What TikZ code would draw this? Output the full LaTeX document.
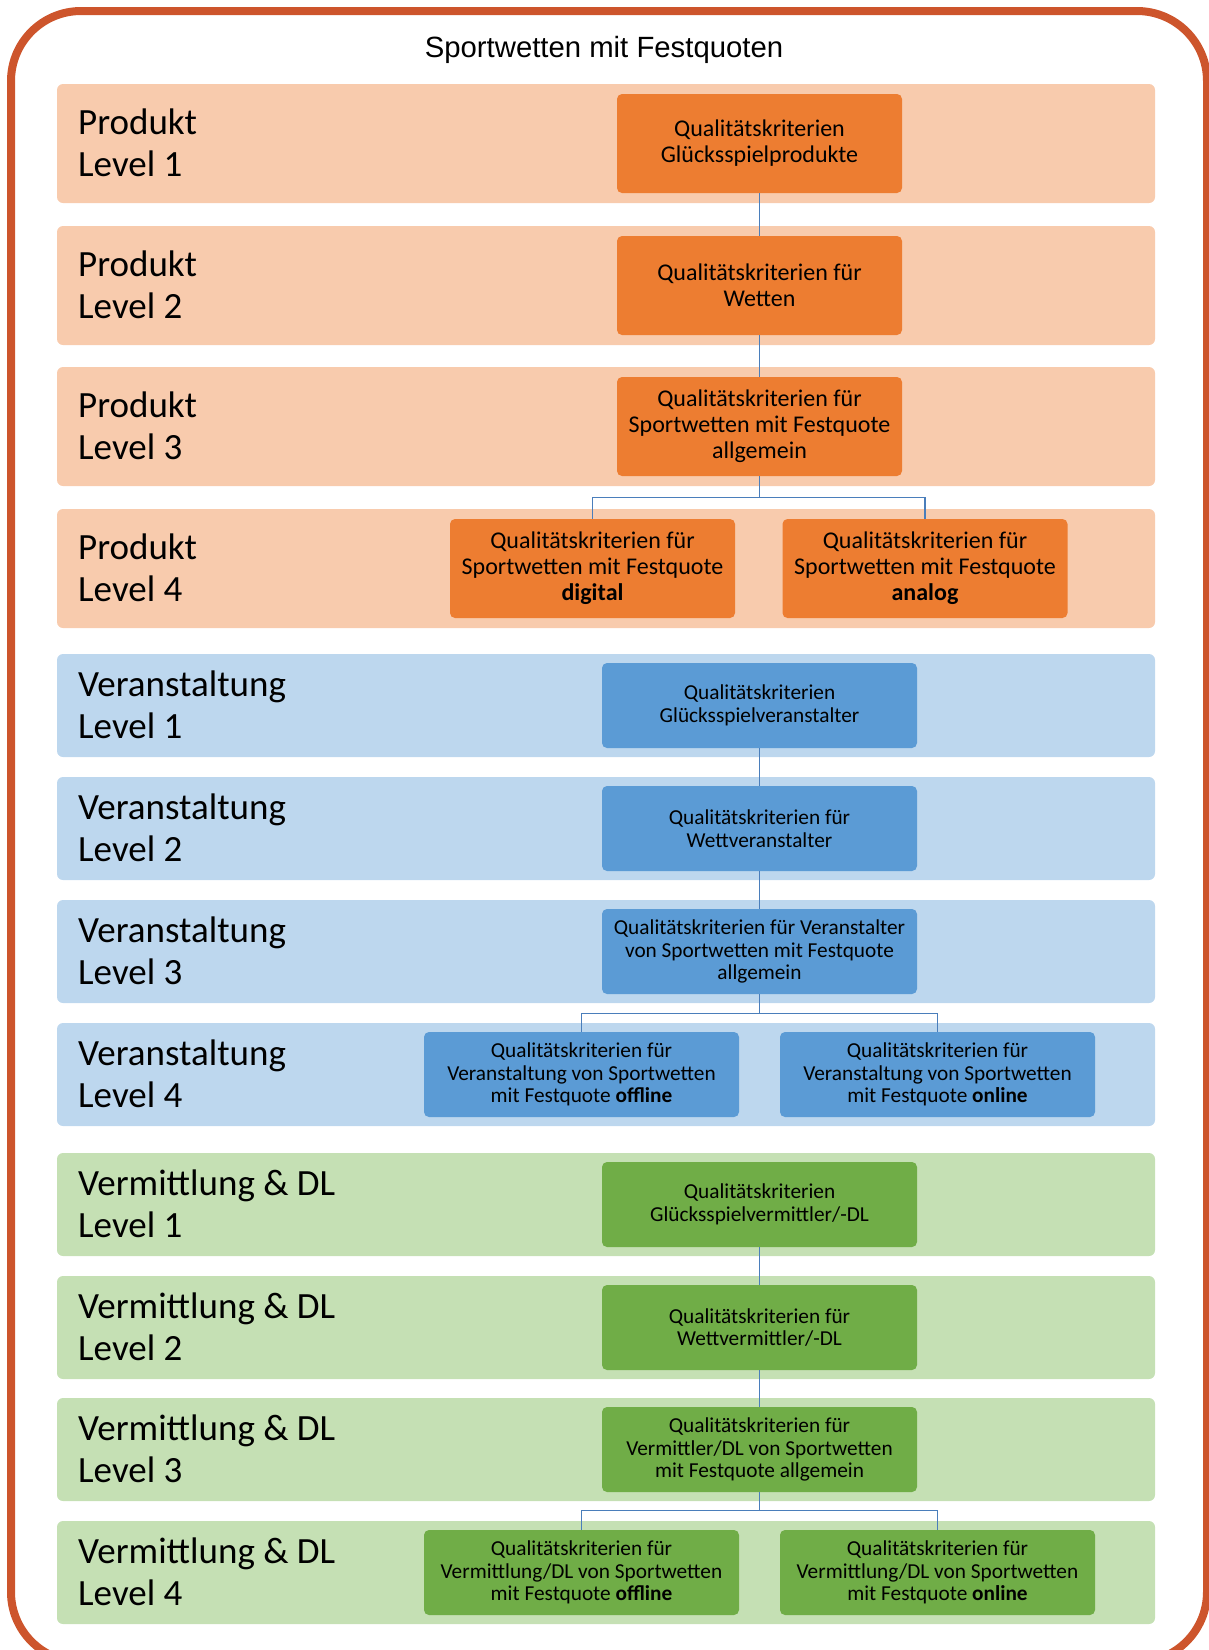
\documentclass[tikz,border=0pt]{standalone}
\usepackage{fontspec}
\setmainfont{Carlito}
\newfontfamily\headfont{Liberation Sans}
\usepackage{xcolor}
\definecolor{frame}{HTML}{CD552C}
\definecolor{prodband}{HTML}{F8CBAD}
\definecolor{prodbox}{HTML}{ED7D31}
\definecolor{verband}{HTML}{BDD7EE}
\definecolor{verbox}{HTML}{5B9BD5}
\definecolor{vmband}{HTML}{C5E0B4}
\definecolor{vmbox}{HTML}{70AD47}
\definecolor{linkblue}{HTML}{4A7EBB}
\usetikzlibrary{positioning,calc}
\tikzset{
  band/.style={rounded corners=6pt},
  lvl/.style={anchor=base west,align=left,inner sep=0pt,font=\fontsize{37}{42}\selectfont},
  kbox/.style={rounded corners=5pt,align=center,inner sep=2pt,text=black},
  kprod/.style={kbox,fill=prodbox,minimum width=285pt,minimum height=99pt,font=\fontsize{24}{26}\selectfont},
  kver/.style={kbox,fill=verbox,minimum width=315pt,minimum height=85pt,font=\fontsize{21.3}{22.5}\selectfont},
  kvm/.style={kver,fill=vmbox},
  link/.style={draw=linkblue,line width=1.2pt},
}

\begin{document}
\begin{tikzpicture}[x=1pt,y=-1pt]
  \useasboundingbox (0,0) rectangle (1209,1650);
  % outer frame, runs off the bottom edge
  \begin{scope}
    \clip (0,0) rectangle (1209,1650);
    \draw[frame,line width=8pt,rounded corners=70pt] (11,11) rectangle (1207,1662);
  \end{scope}
  \node[font=\headfont\fontsize{29.3}{34}\selectfont,anchor=base] (title) at (604,57) {Sportwetten mit Festquoten};
  % level bands (label sits on the baseline of its second line)
  \foreach \n/\y/\h/\c/\t in {lp1/84/119/prodband/{Produkt\\Level 1},
                             lp2/226/119/prodband/{Produkt\\Level 2},
                             lp3/367/119/prodband/{Produkt\\Level 3},
                             lp4/509/119/prodband/{Produkt\\Level 4},
                             lv1/654/103/verband/{Veranstaltung\\Level 1},
                             lv2/777/103/verband/{Veranstaltung\\Level 2},
                             lv3/900/103/verband/{Veranstaltung\\Level 3},
                             lv4/1023/103/verband/{Veranstaltung\\Level 4},
                             lm1/1153/103/vmband/{Vermittlung \& DL\\Level 1},
                             lm2/1276/103/vmband/{Vermittlung \& DL\\Level 2},
                             lm3/1398/103/vmband/{Vermittlung \& DL\\Level 3},
                             lm4/1521/103/vmband/{Vermittlung \& DL\\Level 4}}{
    \fill[band,\c] (57,\y) rectangle (1155,\y+\h);
    \node[lvl] (\n) at (78,\y+\h/2+32.5) {\t};
  }
  % product criteria
  \node[kprod] (prod1) at (759.5,143.5) {Qualitätskriterien\\Glücksspielprodukte};
  \node[kprod] (prod2) at (759.5,285.5) {Qualitätskriterien für\\Wetten};
  \node[kprod] (prod3) at (759.5,426.5) {Qualitätskriterien für\\Sportwetten mit Festquote\\allgemein};
  \node[kprod] (prod4d) at (592.5,568.5) {Qualitätskriterien für\\Sportwetten mit Festquote\\\textbf{digital}};
  \node[kprod] (prod4a) at (925,568.5) {Qualitätskriterien für\\Sportwetten mit Festquote\\\textbf{analog}};
  % operator criteria
  \node[kver] (ver1) at (759.5,705.5) {Qualitätskriterien\\Glücksspielveranstalter};
  \node[kver] (ver2) at (759.5,828.5) {Qualitätskriterien für\\Wettveranstalter};
  \node[kver] (ver3) at (759.5,951.5) {Qualitätskriterien für Veranstalter\\von Sportwetten mit Festquote\\allgemein};
  \node[kver] (ver4off) at (581.5,1074.5) {Qualitätskriterien für\\Veranstaltung von Sportwetten\\mit Festquote \textbf{offline}};
  \node[kver] (ver4on) at (937.5,1074.5) {Qualitätskriterien für\\Veranstaltung von Sportwetten\\mit Festquote \textbf{online}};
  % broker and service criteria
  \node[kvm] (vm1) at (759.5,1204.5) {Qualitätskriterien\\Glücksspielvermittler/-DL};
  \node[kvm] (vm2) at (759.5,1327.5) {Qualitätskriterien für\\Wettvermittler/-DL};
  \node[kvm] (vm3) at (759.5,1449.5) {Qualitätskriterien für\\Vermittler/DL von Sportwetten\\mit Festquote allgemein};
  \node[kvm] (vm4off) at (581.5,1572.5) {Qualitätskriterien für\\Vermittlung/DL von Sportwetten\\mit Festquote \textbf{offline}};
  \node[kvm] (vm4on) at (937.5,1572.5) {Qualitätskriterien für\\Vermittlung/DL von Sportwetten\\mit Festquote \textbf{online}};
  % tree links
  \draw[link] (prod1.south) -- (prod2.north);
  \draw[link] (prod2.south) -- (prod3.north);
  \draw[link] (prod3.south) -- ++(0,21) -| (prod4d.north);
  \draw[link] (prod3.south) -- ++(0,21) -| (prod4a.north);
  \draw[link] (ver1.south) -- (ver2.north);
  \draw[link] (ver2.south) -- (ver3.north);
  \draw[link] (ver3.south) -- ++(0,19) -| (ver4off.north);
  \draw[link] (ver3.south) -- ++(0,19) -| (ver4on.north);
  \draw[link] (vm1.south) -- (vm2.north);
  \draw[link] (vm2.south) -- (vm3.north);
  \draw[link] (vm3.south) -- ++(0,18) -| (vm4off.north);
  \draw[link] (vm3.south) -- ++(0,18) -| (vm4on.north);
\end{tikzpicture}
\end{document}
